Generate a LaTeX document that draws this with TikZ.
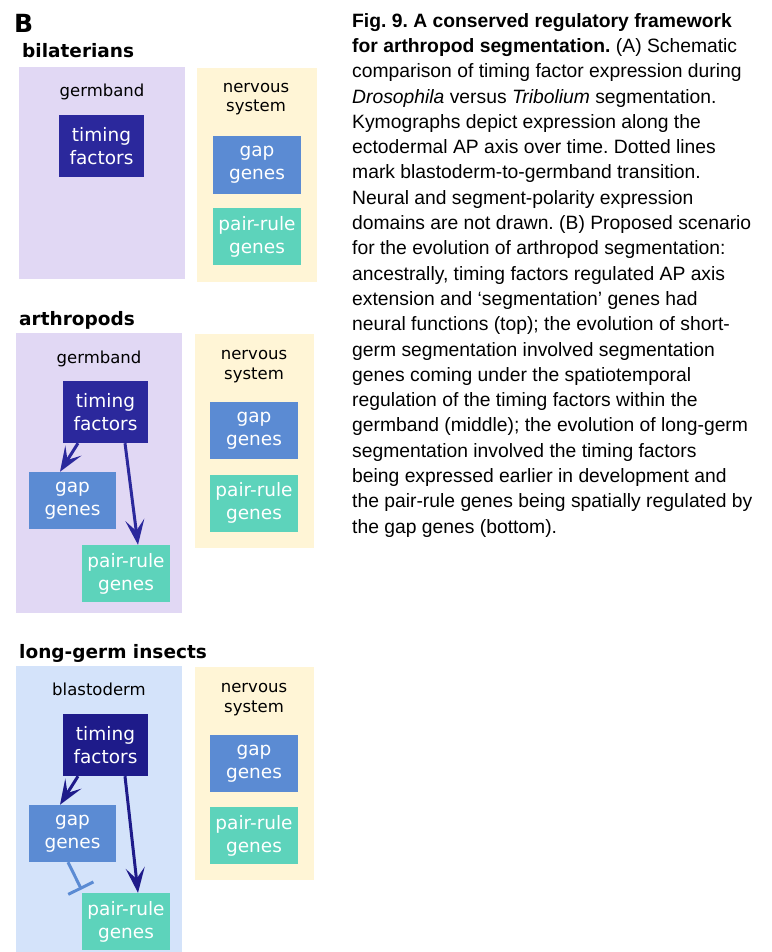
\documentclass[tikz,border=0pt]{standalone}
\usepackage{fontspec}
\setmainfont{Liberation Sans}
\newfontfamily\djfont{DejaVu Sans}
\usetikzlibrary{arrows.meta}
\definecolor{lav}{HTML}{E1D8F4}
\definecolor{cream}{HTML}{FFF5D6}
\definecolor{skyb}{HTML}{D4E3FA}
\definecolor{timc}{HTML}{2B289C}
\definecolor{timd}{HTML}{1E1B8A}
\definecolor{gapc}{HTML}{5B8BD3}
\definecolor{prc}{HTML}{5DD3BB}
\frenchspacing
\tikzset{
  panel/.style={draw=none, inner sep=0, anchor=center},
  gbox/.style={inner sep=0, align=center, text=white, font=\djfont\fontsize{18.5}{23}\selectfont},
  timbox/.style={gbox, fill=timc, minimum width=85pt, minimum height=62pt},
  gapbox/.style={gbox, fill=gapc, minimum width=88pt, minimum height=57pt},
  prbox/.style={gbox, fill=prc, minimum width=88pt, minimum height=57pt},
  lbl/.style={inner sep=0, align=center, font=\djfont\fontsize{16.5}{19.5}\selectfont, anchor=base},
  ttl/.style={inner sep=0, font=\djfont\bfseries\fontsize{18.5}{22}\selectfont, anchor=base west},
  act/.style={line width=3pt, color=timc, -{Stealth[length=25pt,width=19pt,inset=11pt]}},
  actd/.style={act, color=timd},
  inh/.style={line width=3pt, color=gapc, -{Bar[width=28pt]}},
}
\begin{document}
\begin{tikzpicture}[x=1pt,y=-1pt]
\useasboundingbox (0,0) rectangle (771,952);
% ---- titles
\node[ttl, font=\djfont\bfseries\fontsize{25}{28}\selectfont] (B) at (14,33) {B};
\node[ttl] (t1) at (22,58) {bilaterians};
\node[ttl] (t2) at (19,325) {arthropods};
\node[ttl] (t3) at (19,658) {long-germ insects};
% ---- top panel
\node[panel, fill=lav, minimum width=166pt, minimum height=212pt] (gb1) at (102,173) {};
\node[panel, fill=cream, minimum width=120pt, minimum height=214pt] (ns1) at (257,175) {};
\node[lbl] (gbl1) at (102,97) {germband};
\node[lbl] (nsl1) at (256,112) {nervous\\system};
\node[timbox] (tf1) at (101.5,146.5) {timing\\factors};
\node[gapbox] (ng1) at (257,165) {gap\\genes};
\node[prbox] (np1) at (257,236.5) {pair-rule\\genes};
% ---- middle panel
\node[panel, fill=lav, minimum width=166pt, minimum height=280pt] (gb2) at (99,473) {};
\node[panel, fill=cream, minimum width=119pt, minimum height=214pt] (ns2) at (254.5,441) {};
\node[lbl] (gbl2) at (99,363) {germband};
\node[lbl] (nsl2) at (254,379) {nervous\\system};
\node[timbox] (tf2) at (105.5,412) {timing\\factors};
\node[gapbox, minimum width=87pt] (g2) at (72.5,500.5) {gap\\genes};
\node[prbox] (p2) at (126,573.5) {pair-rule\\genes};
\node[gapbox] (ng2) at (254,430.5) {gap\\genes};
\node[prbox] (np2) at (254,503) {pair-rule\\genes};
\draw[act] ([xshift=-27.5pt]tf2.south) -- ([xshift=-12.5pt]g2.north);
\draw[act] ([xshift=19.5pt]tf2.south) -- ([xshift=12pt]p2.north);
% ---- bottom panel
\node[panel, fill=skyb, minimum width=166pt, minimum height=290pt] (bd3) at (99,811) {};
\node[panel, fill=cream, minimum width=119pt, minimum height=213pt] (ns3) at (254.5,773.5) {};
\node[lbl] (bdl3) at (99,695) {blastoderm};
\node[lbl] (nsl3) at (254,712) {nervous\\system};
\node[timbox, fill=timd] (tf3) at (105.5,745) {timing\\factors};
\node[gapbox, minimum width=87pt] (g3) at (72.5,833.5) {gap\\genes};
\node[prbox] (p3) at (126,921.5) {pair-rule\\genes};
\node[gapbox] (ng3) at (254,763.5) {gap\\genes};
\node[prbox] (np3) at (254,835.5) {pair-rule\\genes};
\draw[actd] ([xshift=-27.5pt]tf3.south) -- ([xshift=-12.5pt]g3.north);
\draw[actd] ([xshift=19.5pt]tf3.south) -- ([xshift=12pt]p3.north);
\coordinate (inhEnd) at (81.5,889.5);
\draw[inh] ([xshift=-4.5pt]g3.south) -- (inhEnd);
% ---- caption
\node[inner sep=0, anchor=north west, align=left, font=\fontsize{19.3}{25.3}\selectfont] (cap) at (352,13) {%
\textbf{Fig. 9. A conserved regulatory framework}\\
\textbf{for arthropod segmentation.} (A) Schematic\\
comparison of timing factor expression during\\
\textit{Drosophila} versus \textit{Tribolium} segmentation.\\
Kymographs depict expression along the\\
ectodermal AP axis over time. Dotted lines\\
mark blastoderm-to-germband transition.\\
Neural and segment-polarity expression\\
domains are not drawn. (B) Proposed scenario\\
for the evolution of arthropod segmentation:\\
ancestrally, timing factors regulated AP axis\\
extension and ‘segmentation’ genes had\\
neural functions (top); the evolution of short-\\
germ segmentation involved segmentation\\
genes coming under the spatiotemporal\\
regulation of the timing factors within the\\
germband (middle); the evolution of long-germ\\
segmentation involved the timing factors\\
being expressed earlier in development and\\
the pair-rule genes being spatially regulated by\\
the gap genes (bottom).};
\end{tikzpicture}
\end{document}
